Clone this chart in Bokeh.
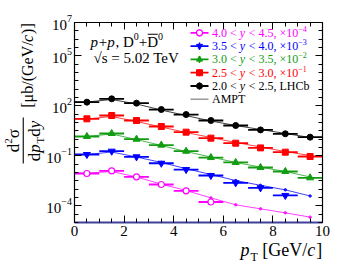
import math
import numpy as np
from bokeh.plotting import figure
from bokeh.models import Label, FixedTicker, LinearAxis, LogAxis, BoxAnnotation, Range1d, CustomJSTickFormatter
from bokeh.embed import file_html
from bokeh.resources import INLINE

# ---------------- data ----------------
pt_lo = [0, 1, 2, 3, 4, 5, 6, 7, 8, 9]
pt_hi = [1, 2, 3, 4, 5, 6, 7, 8, 9, 10]
pt_mid = [0.5, 1.5, 2.5, 3.5, 4.5, 5.5, 6.5, 7.5, 8.5, 9.5]

# LHCb data (scaled), mub/(GeV/c)
lhcb_y20_25 = [166, 263, 145, 60, 30, 13.2, 6.6, 3.6, 2.1, 1.32]
lhcb_y25_30 = [16.6, 26.3, 13.2, 5.75, 2.63, 1.15, 0.575, 0.30, 0.166, 0.091]
lhcb_y30_35 = [1.45, 2.19, 1.0, 0.44, 0.19, 0.079, 0.040, 0.020, 0.0115, 0.0048]
lhcb_y35_40 = [0.12, 0.19, 0.087, 0.036, 0.015, 0.0066, 0.0024, 0.0012, 0.00042]
lhcb_y40_45 = [0.0087, 0.0126, 0.0055, 0.0019, 0.00079, 0.00017]

# AMPT curves
ampt_x = [0, 0.5, 1.5, 2.5, 3.5, 4.5, 5.5, 6.5, 7.5, 8.5, 9.5]
ampt_y20_25 = [170, 170, 240, 129, 56, 26, 12.3, 6.6, 3.8, 2.2, 1.26]
ampt_y25_30 = [16.2, 16.2, 22.9, 11.5, 5.4, 2.5, 1.26, 0.63, 0.34, 0.18, 0.105]
ampt_y30_35 = [1.45, 1.45, 2.04, 0.95, 0.42, 0.18, 0.085, 0.040, 0.021, 0.0115, 0.0054]
ampt_y35_40 = [0.12, 0.12, 0.17, 0.085, 0.040, 0.017, 0.0076, 0.0033, 0.0017, 0.00091, 0.00039]
ampt_y40_45 = [0.0091, 0.0091, 0.0115, 0.0054, 0.0020, 0.00083, 0.0003, 0.000115, 0.000066, 0.000038, 0.000021]

x_ticks = [0, 2, 4, 6, 8, 10]
y_label_exponents = [7, 5, 2, -1, -4]
y_label_exp_text = ["7", "5", "2", "\u22121", "\u22124"]
X_MIN, X_MAX = 0, 10
Y_MIN, Y_MAX = 1e-5, 1e7

FONT = "Liberation Serif"
BLACK, RED, GREEN, BLUE, MAG = "#000000", "#ff0000", "#129c12", "#0000ff", "#ff00ff"

# ---------------- figure ----------------
W, H = 339, 269
BX0, BX1, BY0, BY1 = 74, 322, 22, 222   # plot box in page px
ppx = (BX1 - BX0) / (X_MAX - X_MIN)
ppd = (BY1 - BY0) / (math.log10(Y_MAX) - math.log10(Y_MIN))
x_range = Range1d(X_MIN - BX0 / ppx, X_MAX + (W - BX1) / ppx)
y_range = Range1d(10 ** (math.log10(Y_MIN) - (H - BY1) / ppd), 10 ** (math.log10(Y_MAX) + BY0 / ppd))
p = figure(width=W, height=H, x_range=x_range, y_range=y_range,
           y_axis_type="log", output_backend="svg", toolbar_location=None,
           min_border_left=0, min_border_right=0, min_border_top=0, min_border_bottom=0)
p.grid.visible = False
p.outline_line_color = None
p.background_fill_color = "white"
p.border_fill_color = "white"


def xd(px):
    return X_MIN + (px - BX0) / ppx


def yd(py):
    return 10 ** (math.log10(Y_MAX) - (py - BY0) / ppd)


xt = FixedTicker(ticks=x_ticks, minor_ticks=list(np.arange(0, 10.01, 0.5)))
yt = FixedTicker(ticks=[10.0 ** e for e in y_label_exponents],
                 minor_ticks=[10.0 ** e for e in np.arange(-5, 7.01, 0.5)])

bottom_ax = p.xaxis[0]
bottom_ax.ticker = xt
bottom_ax.major_label_text_font = FONT
bottom_ax.major_label_text_font_size = "15px"
bottom_ax.major_label_text_color = "black"
bottom_ax.major_label_standoff = 3
bottom_ax.axis_line_color = "#40409a"
bottom_ax.axis_line_width = 2
bottom_ax.fixed_location = Y_MIN
bottom_ax.bounds = (X_MIN, X_MAX)

left_ax = p.yaxis[0]
left_ax.ticker = yt
left_ax.formatter = CustomJSTickFormatter(code="return ''")
left_ax.fixed_location = X_MIN
left_ax.bounds = (Y_MIN, Y_MAX)

top_ax = LinearAxis(ticker=xt, formatter=CustomJSTickFormatter(code="return ''"),
                    fixed_location=Y_MAX, bounds=(X_MIN, X_MAX))
right_ax = LogAxis(ticker=yt, formatter=CustomJSTickFormatter(code="return ''"),
                   fixed_location=X_MAX, bounds=(Y_MIN, Y_MAX))
p.add_layout(top_ax, "above")
p.add_layout(right_ax, "right")
for ax in [bottom_ax, left_ax, top_ax, right_ax]:
    ax.major_tick_in = 7
    ax.major_tick_out = 0
    ax.minor_tick_in = 4
    ax.minor_tick_out = 0
    ax.major_tick_line_color = "black"
    ax.minor_tick_line_color = "black"
for ax in [left_ax, top_ax, right_ax]:
    ax.axis_line_color = "black"
    ax.axis_line_width = 1.2

# ---------------- curves and data ----------------
series = [
    (ampt_y40_45, lhcb_y40_45, MAG, "circle", True),
    (ampt_y35_40, lhcb_y35_40, BLUE, "inverted_triangle", False),
    (ampt_y30_35, lhcb_y30_35, GREEN, "triangle", False),
    (ampt_y25_30, lhcb_y25_30, RED, "square", False),
    (ampt_y20_25, lhcb_y20_25, BLACK, "circle", False),
]
for ampt, data, c, mk, hollow in series:
    p.line(ampt_x, ampt, line_color=c, line_width=1, line_alpha=0.75)
    p.scatter(ampt_x[1:], ampt[1:], marker="circle", size=2.5, color=c, alpha=0.8)
for ampt, data, c, mk, hollow in series:
    n = len(data)
    p.segment(x0=pt_lo[:n], x1=pt_hi[:n], y0=data, y1=data, line_color=c, line_width=1.8)
    size = 6 if mk in ("circle", "square") else 7
    if hollow:
        p.scatter(pt_mid[:n], data, marker=mk, size=size, line_color=c, fill_color="white", line_width=1.2)
    else:
        p.scatter(pt_mid[:n], data, marker=mk, size=size, color=c)

# ---------------- text helpers ----------------
EM = {' ': .25, '.': .25, ',': .25, '<': .564, '\u00d7': .564, '[': .333, ']': .333, '(': .333,
      ')': .333, '/': .278, '\u03bc': .5, 'b': .5, 'G': .722, 'e': .444, 'V': .722, 'c': .444,
      'd': .5, 'p': .5, 'y': .5, 'T': .611, '\u03c3': .55, 'L': .611, 'H': .722, 'C': .667,
      'A': .722, 'M': .889, 'P': .556, '+': .564, 'D': .722, '\u221a': .55, 's': .389,
      '=': .564, '\u2212': .564}
EMI = {'y': .5, 'c': .5, 'p': .55}


def tw(s, size, italic=False):
    tot = 0.0
    for ch in s:
        if italic and ch in EMI:
            tot += EMI[ch]
        else:
            tot += EM.get(ch, 0.5)
    return tot * size


def place(pieces, x_px, y_px, angle=0.0, align="left"):
    total = sum(tw(t, s, it) for t, s, it, sh, c in pieces)
    cur = -total if align == "right" else (-total / 2 if align == "center" else 0.0)
    for text, size, italic, shift, color in pieces:
        stripped = text.lstrip(" ")
        cur += tw(text[:len(text) - len(stripped)], size)
        if angle == 0:
            px, py = x_px + cur, y_px + shift
        else:
            px, py = x_px + shift, y_px - cur
        p.add_layout(Label(x=xd(px), y=yd(py), text=stripped, text_font=FONT,
                           text_font_size=f"{size}px",
                           text_font_style="italic" if italic else "normal",
                           text_color=color, text_align="left", text_baseline="middle",
                           angle=angle))
        cur += tw(stripped, size, italic)
    return total


def hbar(x0, x1, y0, y1):
    p.add_layout(BoxAnnotation(left=xd(x0), right=xd(x1), top=yd(y0), bottom=yd(y1),
                               fill_color="black", fill_alpha=1, line_alpha=0))


# y tick labels
for e, et in zip(y_label_exponents, y_label_exp_text):
    ty = BY0 + (math.log10(Y_MAX) - e) * ppd
    place([("10", 15, False, 2.5, "black"), (et, 10, False, -4.5, "black")], 71.5, ty, align="right")

# x axis title
place([("p", 18, True, 0, "black"), ("T", 12, False, 7, "black"),
       (" [GeV/", 18, False, 0, "black"), ("c", 18, True, 0, "black"), ("]", 18, False, 0, "black")],
      240, 249)

# y axis title (rotated)
ROT = math.pi / 2
place([("[\u03bcb/(GeV/", 16, False, 0, "black"), ("c", 16, True, 0, "black"), (")]", 16, False, 0, "black")],
      27, 65, angle=ROT, align="center")
place([("d", 17, False, 0, "black"), ("p", 17, True, 0, "black"), ("T", 11, False, 5, "black"),
       ("d", 17, False, 0, "black"), ("y", 17, True, 0, "black")], 34, 140, angle=ROT, align="center")
place([("d", 17, False, 0, "black"), ("2", 11, False, -5, "black"), ("\u03c3", 17, False, 0, "black")],
      13, 140, angle=ROT, align="center")
hbar(22.2, 23.3, 117, 163)

# system label
place([("p", 15, True, 0, "black"), ("+", 15, False, 0, "black"), ("p", 15, True, 0, "black"),
       (", D", 15, False, 0, "black"), ("0", 10, False, -5, "black"), ("+", 15, False, 0, "black"),
       ("D", 15, False, 0, "black"), ("0", 10, False, -5, "black")], 90, 41)
dbar_x = 90 + tw("p", 15, True) * 2 + tw("+, D", 15) + tw("0", 10) + tw("+", 15)
hbar(dbar_x + 0.5, dbar_x + 10.5, 33.3, 34.3)
place([("\u221as = 5.02 TeV", 15, False, 0, "black")], 93, 57)

# legend
rows = [32.3, 45.6, 58.9, 72.2, 85.5, 98.8]
leg_text = [
    ("4.0 < ", "y", " < 4.5, \u00d710", "\u22124", MAG),
    ("3.5 < ", "y", " < 4.0, \u00d710", "\u22123", BLUE),
    ("3.0 < ", "y", " < 3.5, \u00d710", "\u22122", GREEN),
    ("2.5 < ", "y", " < 3.0, \u00d710", "\u22121", RED),
    ("2.0 < ", "y", " < 2.5, LHCb", "", BLACK),
]
for (a, b, cpart, sup, col), (ampt, data, c, mk, hollow), ry in zip(leg_text, series, rows):
    pcs = [(a, 12, False, 0, col), (b, 12, True, 0, col), (cpart, 12, False, 0, col)]
    if sup:
        pcs.append((sup, 8, False, -4, col))
    place(pcs, 211.5, ry)
    p.segment(x0=[xd(190)], x1=[xd(208)], y0=[yd(ry)], y1=[yd(ry)], line_color=c, line_width=1.8)
    p.segment(x0=[xd(199)], x1=[xd(199)], y0=[yd(ry - 3.5)], y1=[yd(ry + 3.5)], line_color=c, line_width=1.5)
    if hollow:
        p.scatter([xd(199)], [yd(ry)], marker=mk, size=6, line_color=c, fill_color="white", line_width=1.2)
    else:
        p.scatter([xd(199)], [yd(ry)], marker=mk, size=6, color=c)
p.segment(x0=[xd(190)], x1=[xd(208)], y0=[yd(rows[5])], y1=[yd(rows[5])], line_color="#999999", line_width=1.5)
place([("AMPT", 12, False, 0, "black")], 211.5, rows[5])

open("out.html", "w").write(file_html(p, INLINE))
